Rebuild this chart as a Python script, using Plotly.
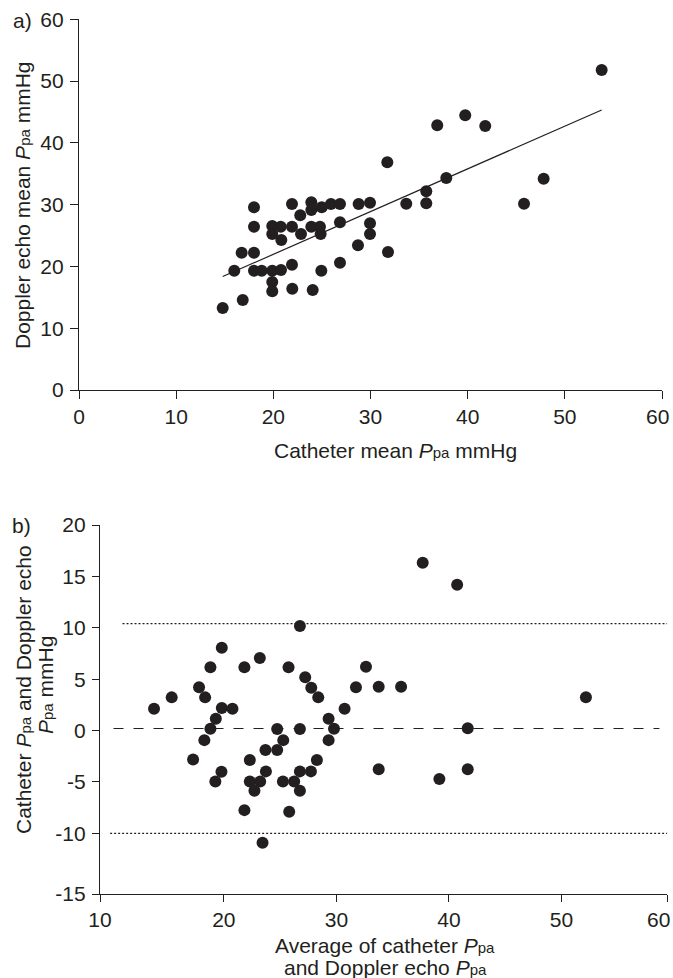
import plotly.graph_objects as go

# ---------------- data ----------------
# Panel a: catheter mean Ppa vs Doppler echo mean Ppa (mmHg)
catheter_a = [14.79, 16.85, 15.98, 16.74, 18.01, 18.01, 18.01, 18.01, 18.80, 19.89,
              20.79, 19.89, 19.89, 21.95, 24.05, 21.92, 24.94, 26.86, 28.71, 31.80,
              31.73, 19.89, 19.89, 20.76, 20.82, 21.92, 21.92, 22.77, 22.85, 23.91,
              23.91, 23.91, 24.80, 24.87, 24.98, 25.93, 26.86, 26.86, 28.78, 29.95,
              29.95, 29.95, 33.68, 35.74, 35.74, 37.80, 36.87, 39.75, 41.81, 45.80,
              47.82, 53.79]
doppler_a = [13.27, 14.57, 19.31, 22.22, 22.22, 29.57, 26.43, 19.31, 19.31, 19.31,
             19.42, 17.48, 15.98, 16.40, 16.19, 20.28, 19.31, 20.61, 23.42, 22.34,
             36.86, 26.55, 25.25, 26.43, 24.28, 26.43, 30.11, 28.28, 25.25, 30.38,
             29.14, 26.43, 26.43, 25.25, 29.57, 30.11, 30.11, 27.14, 30.11, 30.32,
             26.98, 25.25, 30.16, 32.16, 30.22, 34.32, 42.85, 44.46, 42.73, 30.16,
             34.20, 51.80]
reg_slope = 0.6913
reg_intercept = 8.136

# Panel b: Bland-Altman (average vs difference)
average_b = [13.80, 15.37, 17.27, 17.80, 18.34, 18.27, 18.81, 19.29, 19.82, 20.77,
             18.81, 19.82, 19.79, 19.25, 21.83, 23.20, 21.83, 22.31, 22.31, 23.23,
             22.72, 23.74, 23.70, 24.74, 25.28, 24.74, 25.25, 26.25, 26.76, 26.76,
             27.74, 28.27, 25.81, 25.75, 26.76, 26.76, 27.23, 27.77, 28.39, 29.31,
             29.79, 29.31, 30.73, 31.74, 32.63, 23.44, 37.67, 40.73, 33.76, 35.75,
             33.76, 39.15, 41.67, 41.67, 52.17]
difference_b = [2.12, 3.23, -2.81, 4.21, 3.23, -0.93, 0.18, 1.15, 2.19, 2.12,
                6.15, 8.06, -4.01, -4.95, 6.15, 7.06, -7.74, -2.87, -4.95, -4.95,
                -5.86, -3.97, -1.90, -1.90, -0.93, 0.15, -4.95, -4.95, -5.86, -3.97,
                -3.97, -2.87, -7.90, 6.15, 0.15, 10.17, 5.18, 4.17, 3.23, 1.15,
                0.18, -0.93, 2.12, 4.21, 6.21, -10.92, 16.32, 14.19, 4.26, 4.26,
                -3.76, -4.71, -3.76, 0.23, 3.25]
mean_diff = 0.2
upper_loa = 10.4
lower_loa = -10.0
mean_line_x = [10.2, 58.7]
upper_line_x = [11.0, 59.4]
lower_line_x = [9.9, 59.4]

# axis ticks (the last x label of each panel is drawn as a right-aligned text)
a_x_ticks = [0, 10, 20, 30, 40, 50, 60]
a_x_ticktext = ["0", "10", "20", "30", "40", "50", ""]
a_y_ticks = [0, 10, 20, 30, 40, 50, 60]
b_x_range = [9.0, 59.4]
b_x_tickvals = [9.0, 20, 30, 40, 50, 59.4]
b_x_ticktext = ["10", "20", "30", "40", "50", ""]
b_y_range = [-15.9, 20]
b_y_tickvals = [-15.9, -10, -5, 0, 5, 10, 15, 20]
b_y_ticktext = ["-15", "-10", "-5", "0", "5", "10", "15", "20"]
last_x_label = "60"

# ---------------- styling ----------------
W, H = 673, 978
INK = "#231f20"
FONT = "Liberation Sans, Arial, Helvetica, sans-serif"
FS = 21
SUB_FS = 15


def fx(px):
    return px / W


def fy(py):
    return 1 - py / H


fig = go.Figure()

# Panel a scatter
fig.add_trace(go.Scatter(x=catheter_a, y=doppler_a, mode="markers",
                         marker=dict(size=12, color=INK, line=dict(width=0)),
                         xaxis="x", yaxis="y", showlegend=False, cliponaxis=False))
# regression line
x0, x1 = min(catheter_a), max(catheter_a)
fig.add_trace(go.Scatter(x=[x0, x1], y=[reg_intercept + reg_slope * x0, reg_intercept + reg_slope * x1],
                         mode="lines", line=dict(color=INK, width=1.2),
                         xaxis="x", yaxis="y", showlegend=False))

# Panel b lines
fig.add_trace(go.Scatter(x=mean_line_x, y=[mean_diff, mean_diff], mode="lines",
                         line=dict(color=INK, width=1.2, dash="10px,10px"),
                         xaxis="x2", yaxis="y2", showlegend=False))
fig.add_trace(go.Scatter(x=upper_line_x, y=[upper_loa, upper_loa], mode="lines",
                         line=dict(color=INK, width=1.2, dash="2px,2px"),
                         xaxis="x2", yaxis="y2", showlegend=False))
fig.add_trace(go.Scatter(x=lower_line_x, y=[lower_loa, lower_loa], mode="lines",
                         line=dict(color=INK, width=1.2, dash="2px,2px"),
                         xaxis="x2", yaxis="y2", showlegend=False))
# Panel b scatter
fig.add_trace(go.Scatter(x=average_b, y=difference_b, mode="markers",
                         marker=dict(size=12, color=INK, line=dict(width=0)),
                         xaxis="x2", yaxis="y2", showlegend=False, cliponaxis=False))

axis_common = dict(showgrid=False, zeroline=False, showline=True, linecolor=INK, linewidth=1.3,
                   ticks="outside", tickcolor=INK, tickwidth=1.3, automargin=False,
                   ticklabeloverflow="allow",
                   tickfont=dict(family=FONT, size=FS, color=INK), fixedrange=True)

fig.update_layout(
    width=W, height=H, template="none",
    margin=dict(l=0, r=0, t=0, b=0),
    paper_bgcolor="white", plot_bgcolor="white",
    font=dict(family=FONT, size=FS, color=INK),
    xaxis=dict(axis_common, range=[0, 60], tickvals=a_x_ticks, ticktext=a_x_ticktext, ticklen=8,
               domain=[fx(79), fx(662)], anchor="y"),
    yaxis=dict(axis_common, range=[0, 60], tickvals=a_y_ticks, ticklen=8,
               ticklabelstandoff=2, domain=[fy(390), fy(19.3)], anchor="x"),
    xaxis2=dict(axis_common, range=b_x_range, tickvals=b_x_tickvals, ticktext=b_x_ticktext,
                ticklen=7, domain=[fx(100), fx(667.3)], anchor="y2"),
    yaxis2=dict(axis_common, range=b_y_range, tickvals=b_y_tickvals, ticktext=b_y_ticktext,
                ticklen=7, ticklabelstandoff=2, domain=[fy(894), fy(525)], anchor="x2"),
)

ann = []


def text(px, py, s, angle=0, xanchor="center"):
    ann.append(dict(x=fx(px), y=fy(py), xref="paper", yref="paper", text=s, showarrow=False,
                    xanchor=xanchor, yanchor="middle", textangle=angle,
                    font=dict(family=FONT, size=FS, color=INK)))


P = f'<i>P</i><span style="font-size:{SUB_FS}px">pa</span>'
text(22, 21, "a)")
text(21, 525, "b)")
text(671, 416, last_x_label, xanchor="right")
text(672, 919, last_x_label, xanchor="right")
text(395, 450, f"Catheter mean {P} mmHg")
text(22, 205, f"Doppler echo mean {P} mmHg", -90)
text(23, 690, f"Catheter {P} and Doppler echo", -90)
text(45, 685, f"{P} mmHg", -90)
text(385, 945, f"Average of catheter {P}")
text(385, 967, f"and Doppler echo {P}")
fig.update_layout(annotations=ann)

fig.write_html("out.html", config={"displayModeBar": False},
               post_script="document.body.style.margin='0px';")
